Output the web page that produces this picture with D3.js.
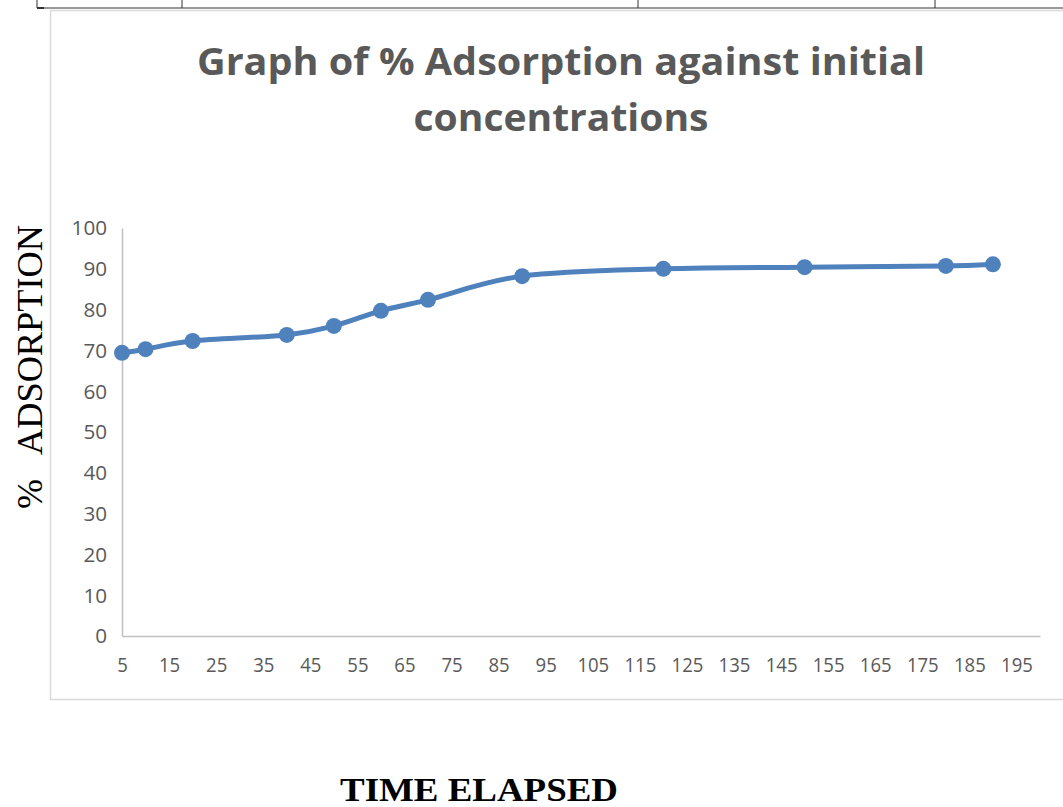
<!DOCTYPE html>
<html>
<head>
<meta charset="utf-8">
<script src="https://cdn.jsdelivr.net/npm/d3@7"></script>
<style>
  html, body { margin: 0; padding: 0; background: #fff; }
  svg { display: block; }
  text { font-variant-ligatures: none; }
</style>
</head>
<body>
<svg id="chart" width="1063" height="807"></svg>
<script>
// Time elapsed and % adsorption readings
const timeElapsed = [5, 10, 20, 40, 50, 60, 70, 90, 120, 150, 180, 190];
const adsorption = [69.4, 70.3, 72.3, 73.8, 76.0, 79.7, 82.4, 88.2, 90.0, 90.4, 90.7, 91.1];
const xTicks = [5, 15, 25, 35, 45, 55, 65, 75, 85, 95, 105, 115, 125, 135, 145, 155, 165, 175, 185, 195];
const yTicks = [0, 10, 20, 30, 40, 50, 60, 70, 80, 90, 100];
const titleLines = ["Graph of % Adsorption against initial", "concentrations"];

const svg = d3.select("#chart");

// Table rules above the chart
const rule = svg.append("g").attr("stroke", "#333").attr("stroke-width", 1).attr("fill", "none");
rule.append("path").attr("d", "M37,0 V8 H1063");
rule.append("path").attr("d", "M37,8 H44").attr("stroke-width", 2);
[182, 638, 935].forEach(x => rule.append("line").attr("x1", x).attr("x2", x).attr("y1", 0).attr("y2", 8));

// Chart frame
svg.append("rect")
  .attr("x", 50.5).attr("y", 10.5).attr("width", 1030).attr("height", 689)
  .attr("fill", "#fff").attr("stroke", "#d9d9d9").attr("stroke-width", 1.5);

const x = d3.scaleLinear().domain([5, 200]).range([122, 1040]);
const y = d3.scaleLinear().domain([0, 100]).range([636, 228]);

// Title, two centred lines
const titleWidths = [728, 295];
titleLines.forEach((t, i) => {
  svg.append("text")
    .attr("x", 561).attr("y", 75 + i * 56)
    .attr("text-anchor", "middle")
    .attr("font-family", "'Open Sans', Lato, sans-serif")
    .attr("font-weight", "bold")
    .attr("font-size", 38)
    .attr("fill", "#595959")
    .attr("textLength", titleWidths[i])
    .attr("lengthAdjust", "spacingAndGlyphs")
    .text(t);
});

// Axes
const xAxis = svg.append("g").attr("transform", `translate(0,${y(0)})`)
  .call(d3.axisBottom(x).tickValues(xTicks).tickSize(0).tickPadding(22));
const yAxis = svg.append("g").attr("transform", `translate(${x(5)},0)`)
  .call(d3.axisLeft(y).tickValues(yTicks).tickSize(0).tickPadding(15));

[xAxis, yAxis].forEach(g => {
  g.select(".domain").attr("stroke", "#bfbfbf").attr("stroke-width", 1.5);
  g.selectAll("text")
    .attr("font-family", "'Open Sans', Lato, sans-serif")
    .attr("font-size", 19.5)
    .attr("fill", "#595959");
});
xAxis.selectAll("text").attr("textLength", function () {
  return this.textContent.length * 10.6;
}).attr("lengthAdjust", "spacingAndGlyphs");
yAxis.selectAll("text").attr("dy", "0.35em").attr("textLength", function () {
  return this.textContent.length * 11.8;
}).attr("lengthAdjust", "spacingAndGlyphs");

// Smoothed series line
const line = d3.line()
  .x((d, i) => x(timeElapsed[i]))
  .y(d => y(d))
  .curve(d3.curveCatmullRom.alpha(0));

svg.append("path")
  .datum(adsorption)
  .attr("d", line)
  .attr("fill", "none")
  .attr("stroke", "#4f81bd")
  .attr("stroke-width", 5)
  .attr("stroke-linecap", "round")
  .attr("stroke-linejoin", "round");

svg.append("g").selectAll("circle")
  .data(adsorption)
  .join("circle")
  .attr("cx", (d, i) => x(timeElapsed[i]))
  .attr("cy", d => y(d))
  .attr("r", 8)
  .attr("fill", "#4f81bd");

// Axis titles
const serif = "'Liberation Serif', 'Times New Roman', serif";
svg.append("text")
  .attr("transform", "translate(42,494) rotate(-90)")
  .attr("text-anchor", "middle")
  .attr("font-family", serif)
  .attr("font-size", 36)
  .attr("fill", "#000")
  .text("%");
svg.append("text")
  .attr("transform", "translate(42,340) rotate(-90)")
  .attr("text-anchor", "middle")
  .attr("font-family", serif)
  .attr("font-size", 36)
  .attr("fill", "#000")
  .attr("textLength", 230)
  .attr("lengthAdjust", "spacingAndGlyphs")
  .text("ADSORPTION");

svg.append("text")
  .attr("x", 479).attr("y", 801)
  .attr("text-anchor", "middle")
  .attr("font-family", serif)
  .attr("font-weight", "bold")
  .attr("font-size", 34)
  .attr("fill", "#000")
  .attr("textLength", 278)
  .attr("lengthAdjust", "spacingAndGlyphs")
  .text("TIME ELAPSED");
</script>
</body>
</html>
